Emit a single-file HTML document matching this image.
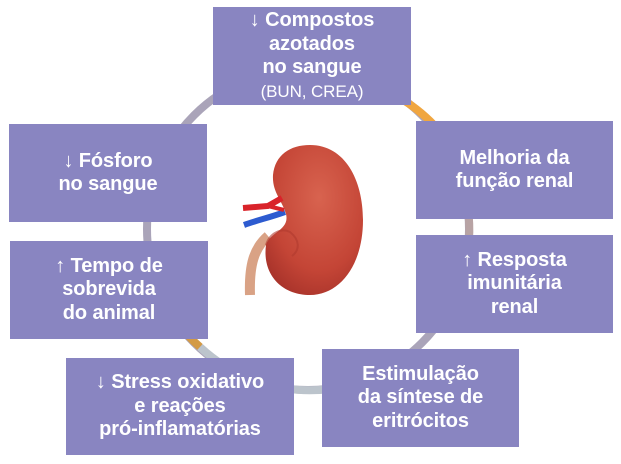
<!DOCTYPE html>
<html><head><meta charset="utf-8"><style>
html,body{margin:0;padding:0;background:#fff;}
body{width:621px;height:464px;position:relative;overflow:hidden;font-family:"Liberation Sans",sans-serif;}
.b{position:absolute;background:#8985c1;color:#fff;font-weight:bold;font-size:20px;line-height:23.5px;text-align:center;display:flex;flex-direction:column;justify-content:center;align-items:center;letter-spacing:-0.1px;}
.s{font-weight:normal;font-size:17px;}
svg{position:absolute;left:0;top:0;}
</style></head><body>
<svg width="621" height="464" viewBox="0 0 621 464">
<defs>
<radialGradient id="k" cx="0.55" cy="0.35" r="0.7">
<stop offset="0" stop-color="#d8634f"/><stop offset="0.7" stop-color="#c44536"/><stop offset="1" stop-color="#aa342b"/>
</radialGradient>
</defs>
<circle cx="308" cy="229" r="161" fill="#fff" stroke="#aaa4b9" stroke-width="8"/>
<path d="M 400 98 A 161 161 0 0 1 457 156" fill="none" stroke="#f0a640" stroke-width="8"/>
<path d="M 158 290 A 161 161 0 0 0 200 347" fill="none" stroke="#d39a45" stroke-width="8"/>
<path d="M 200 347 A 161 161 0 0 0 330 389" fill="none" stroke="#bcc4cc" stroke-width="8"/>
<path d="M 460 176 A 161 161 0 0 1 469 240" fill="none" stroke="#b8a3a4" stroke-width="8"/>
<path d="M 268 236 C 254 248 249 265 250 295" fill="none" stroke="#d9a285" stroke-width="10"/>
<path d="M 310 145 C 345 145 363 180 363 220 C 363 265 340 295 310 295 C 282 295 262 275 266 245 C 270 232 290 230 286 214 C 282 200 272 192 273 175 C 275 155 290 145 310 145 Z" fill="url(#k)"/>
<path d="M 266 245 C 270 232 282 228 290 232 C 300 240 300 250 292 256" fill="none" stroke="#b03a2e" stroke-width="2" opacity="0.6"/>
<path d="M 244 225 C 258 220 268 218 285 212" fill="none" stroke="#2d5bd0" stroke-width="6"/>
<path d="M 243 208 L 268 206 L 282 198" fill="none" stroke="#d9232a" stroke-width="6"/>
<path d="M 268 206 L 284 210" fill="none" stroke="#d9232a" stroke-width="4"/>
</svg>
<div class="b" style="left:213px;top:7px;width:198px;height:98px;">↓ Compostos<br>azotados<br>no sangue<span class="s">(BUN, CREA)</span></div>
<div class="b" style="left:9px;top:124px;width:198px;height:98px;">↓ Fósforo<br>no sangue</div>
<div class="b" style="left:416px;top:121px;width:197px;height:98px;">Melhoria da<br>função renal</div>
<div class="b" style="left:10px;top:241px;width:198px;height:98px;">↑ Tempo de<br>sobrevida<br>do animal</div>
<div class="b" style="left:416px;top:235px;width:197px;height:98px;">↑ Resposta<br>imunitária<br>renal</div>
<div class="b" style="left:66px;top:358px;width:228px;height:97px;">↓ Stress oxidativo<br>e reações<br>pró-inflamatórias</div>
<div class="b" style="left:322px;top:349px;width:197px;height:98px;">Estimulação<br>da síntese de<br>eritrócitos</div>
</body></html>
